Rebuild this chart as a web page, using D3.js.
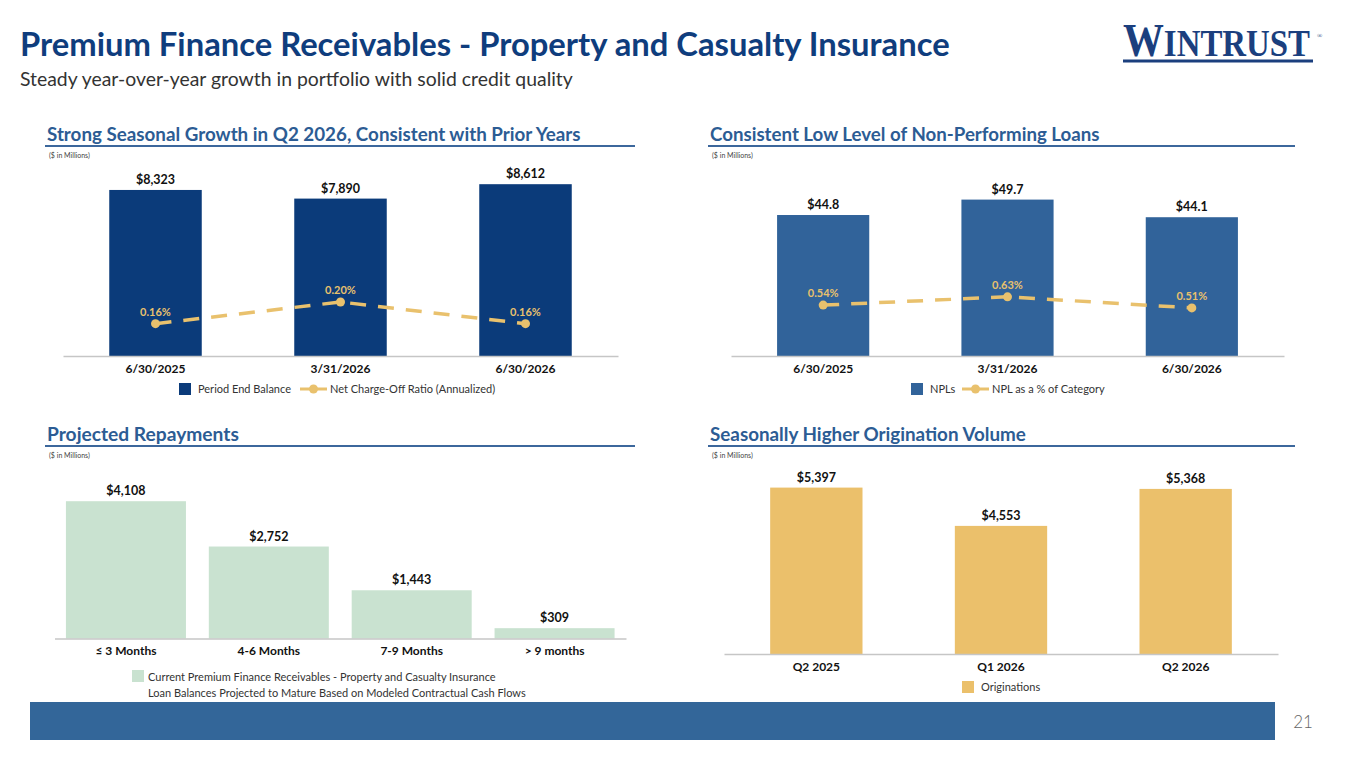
<!DOCTYPE html>
<html>
<head>
<meta charset="utf-8">
<script src="https://cdn.jsdelivr.net/npm/d3@7"></script>
<style>
  body { margin: 0; background: #fff; }
  svg { display: block; font-family: Lato, "Open Sans", sans-serif; }
</style>
</head>
<body>
<div id="chart-area"></div>
<script>
// chart values
const balanceDates = ["6/30/2025", "3/31/2026", "6/30/2026"];
const periodEndBalance = [8323, 7890, 8612];
const ncoRatio = [0.16, 0.20, 0.16];

const nplDates = ["6/30/2025", "3/31/2026", "6/30/2026"];
const nplBalance = [44.8, 49.7, 44.1];
const nplPct = [0.54, 0.63, 0.51];

const repayBuckets = ["≤ 3 Months", "4-6 Months", "7-9 Months", "> 9 months"];
const repayValues = [4108, 2752, 1443, 309];

const origQuarters = ["Q2 2025", "Q1 2026", "Q2 2026"];
const originations = [5397, 4553, 5368];

const navy = "#0b3b7a", steel = "#31639a", gold = "#e9c16d", green = "#c9e2d0", goldBar = "#ebc06b";

const svg = d3.select("#chart-area").append("svg")
    .attr("width", 1365)
    .attr("height", 768);

// squeeze/stretch a text to a target width by changing its font size
function fit(sel, w) {
    const len = sel.node().getComputedTextLength();
    const fs = parseFloat(sel.attr("font-size"));
    sel.attr("font-size", (fs * w / len).toFixed(2));
    return sel;
}

// Page title + subtitle
fit(svg.append("text")
    .attr("x", 20).attr("y", 56)
    .attr("font-size", 30).attr("font-weight", 700)
    .attr("fill", "#0f3d7d")
    .text("Premium Finance Receivables - Property and Casualty Insurance"), 930);

fit(svg.append("text")
    .attr("x", 20).attr("y", 86)
    .attr("font-size", 17)
    .attr("fill", "#333")
    .text("Steady year-over-year growth in portfolio with solid credit quality"), 553);

// Logo - squeezed horizontally to the reference width
const logo = svg.append("text")
    .attr("x", 0).attr("y", 0)
    .attr("font-family", "'Liberation Serif', 'DejaVu Serif', serif")
    .attr("font-weight", 700)
    .attr("fill", "#1b3f7e");
logo.append("tspan").attr("font-size", 46).text("W");
logo.append("tspan").attr("font-size", 37).text("INTRUST");
const logoLen = logo.node().getComputedTextLength();
logo.attr("transform", `translate(1123, 56) scale(${(187 / logoLen).toFixed(4)}, 1)`);
svg.append("text")
    .attr("x", 1317).attr("y", 38)
    .attr("font-family", "'Liberation Serif', serif")
    .attr("font-size", 7).attr("fill", "#1b3f7e")
    .text("®");
svg.append("rect")
    .attr("x", 1123).attr("y", 59.5)
    .attr("width", 190).attr("height", 3)
    .attr("fill", "#1b3f7e");

// Section headings
function heading(x0, x1, y, label, w) {
    fit(svg.append("text")
        .attr("x", x0 + 2).attr("y", y)
        .attr("font-size", 17).attr("font-weight", 700)
        .attr("fill", "#2c5c94")
        .text(label), w);
    svg.append("line")
        .attr("x1", x0).attr("x2", x1)
        .attr("y1", y + 5).attr("y2", y + 5)
        .attr("stroke", "#3c679c").attr("stroke-width", 2);
    svg.append("text")
        .attr("x", x0 + 4).attr("y", y + 17)
        .attr("font-size", 7).attr("fill", "#444")
        .text("($ in Millions)");
}
heading(45, 635, 141, "Strong Seasonal Growth in Q2 2026, Consistent with Prior Years", 534);
heading(708, 1295, 141, "Consistent Low Level of Non-Performing Loans", 390);
heading(45, 635, 441, "Projected Repayments", 192);
heading(708, 1295, 441, "Seasonally Higher Origination Volume", 316);

// generic bar panel
function barPanel(cats, vals, x, y, color, fmt, pad) {
    const g = svg.append("g");
    const rows = cats.map((c, i) => ({cat: c, value: vals[i]}));

    g.selectAll("rect.bar")
        .data(rows)
        .enter().append("rect")
        .attr("class", "bar")
        .attr("x", d => x(d.cat))
        .attr("y", d => y(d.value))
        .attr("width", x.bandwidth())
        .attr("height", d => y.range()[0] - y(d.value))
        .attr("fill", color);

    g.selectAll("text.val")
        .data(rows)
        .enter().append("text")
        .attr("class", "val")
        .attr("x", d => x(d.cat) + x.bandwidth() / 2)
        .attr("y", d => y(d.value) - 6)
        .attr("text-anchor", "middle")
        .attr("font-size", 12.5).attr("font-weight", 700)
        .attr("fill", "#111")
        .text(fmt);

    const axis = g.append("g")
        .attr("transform", `translate(0, ${y.range()[0]})`)
        .call(d3.axisBottom(x).tickSize(0).tickSizeOuter(0).tickPadding(pad));
    axis.select(".domain").attr("stroke", "#c6c6c6").attr("stroke-width", 1.5);
    axis.selectAll("text")
        .attr("font-family", "Lato, 'Open Sans', sans-serif")
        .attr("font-size", 12).attr("font-weight", 700)
        .attr("fill", "#111");
    return g;
}

// dashed ratio line over a bar panel
function ratioLine(cats, vals, x, y) {
    const g = svg.append("g");
    const pts = cats.map((c, i) => ({cat: c, value: vals[i]}));
    const cx = d => x(d.cat) + x.bandwidth() / 2;
    g.append("path")
        .datum(pts)
        .attr("d", d3.line().x(cx).y(d => y(d.value)))
        .attr("fill", "none")
        .attr("stroke", gold)
        .attr("stroke-width", 3.5)
        .attr("stroke-dasharray", "16,12");
    g.selectAll("circle")
        .data(pts).enter().append("circle")
        .attr("cx", cx).attr("cy", d => y(d.value))
        .attr("r", 4.5).attr("fill", gold);
    g.selectAll("text")
        .data(pts).enter().append("text")
        .attr("x", cx).attr("y", d => y(d.value) - 8)
        .attr("text-anchor", "middle")
        .attr("font-size", 11).attr("font-weight", 700)
        .attr("fill", gold)
        .text(d => d.value.toFixed(2) + "%");
}

function legendBox(x, y, color, label) {
    svg.append("rect").attr("x", x).attr("y", y).attr("width", 12).attr("height", 12).attr("fill", color);
    svg.append("text").attr("x", x + 19).attr("y", y + 10)
        .attr("font-size", 11).attr("fill", "#333").text(label);
}
function legendLine(x, y, label) {
    svg.append("line").attr("x1", x).attr("x2", x + 27).attr("y1", y).attr("y2", y)
        .attr("stroke", gold).attr("stroke-width", 3);
    svg.append("circle").attr("cx", x + 13.5).attr("cy", y).attr("r", 4.5).attr("fill", gold);
    svg.append("text").attr("x", x + 30).attr("y", y + 4)
        .attr("font-size", 11).attr("fill", "#333").text(label);
}

const money0 = d => "$" + d3.format(",")(d.value);
const money1 = d => "$" + d3.format(".1f")(d.value);

// Panel 1: period end balance + NCO ratio
const x1 = d3.scaleBand().domain(balanceDates).range([63, 618]).paddingInner(0.5).paddingOuter(0.25);
const y1 = d3.scaleLinear().domain([0, 9500]).range([356, 356 - 9500 * 0.01995]);
barPanel(balanceDates, periodEndBalance, x1, y1, navy, money0, 8);
const y1r = d3.scaleLinear().domain([0.10, 0.30]).range([356.2, 247.8]);
ratioLine(balanceDates, ncoRatio, x1, y1r);
legendBox(179, 383, navy, "Period End Balance");
legendLine(300, 389, "Net Charge-Off Ratio (Annualized)");

// Panel 2: NPLs + NPL %
const x2 = d3.scaleBand().domain(nplDates).range([731, 1284]).paddingInner(0.5).paddingOuter(0.25);
const y2 = d3.scaleLinear().domain([0, 60]).range([356, 356 - 60 * 3.147]);
barPanel(nplDates, nplBalance, x2, y2, steel, money1, 8);
const y2r = d3.scaleLinear().domain([0.4, 0.7]).range([318, 290.4]);
ratioLine(nplDates, nplPct, x2, y2r);
legendBox(911, 383, steel, "NPLs");
legendLine(962, 389, "NPL as a % of Category");

// Panel 3: projected repayments
const x3 = d3.scaleBand().domain(repayBuckets).range([54.5, 626]).paddingInner(0.16).paddingOuter(0.08);
const y3 = d3.scaleLinear().domain([0, 5000]).range([638.5, 638.5 - 5000 * 0.03342]);
barPanel(repayBuckets, repayValues, x3, y3, green, money0, 8);
svg.append("rect").attr("x", 132).attr("y", 670).attr("width", 12).attr("height", 12).attr("fill", green);
svg.append("text").attr("x", 148).attr("y", 681)
    .attr("font-size", 11).attr("fill", "#333")
    .text("Current Premium Finance Receivables - Property and Casualty Insurance");
svg.append("text").attr("x", 148).attr("y", 697)
    .attr("font-size", 11).attr("fill", "#333")
    .text("Loan Balances Projected to Mature Based on Modeled Contractual Cash Flows");

// Panel 4: originations
const x4 = d3.scaleBand().domain(origQuarters).range([724, 1278]).paddingInner(0.5).paddingOuter(0.25);
const y4 = d3.scaleLinear().domain([1730, 6000]).range([654, 654 - 4270 * 0.04538]);
barPanel(origQuarters, originations, x4, y4, goldBar, money0, 8.5);
legendBox(962, 681, goldBar, "Originations");

// Footer band + page number
svg.append("rect")
    .attr("x", 30).attr("y", 702)
    .attr("width", 1245).attr("height", 38)
    .attr("fill", "#336699");
svg.append("text")
    .attr("x", 1303).attr("y", 728)
    .attr("text-anchor", "middle")
    .attr("font-size", 17).attr("font-weight", 300)
    .attr("fill", "#666")
    .text("21");
</script>
</body>
</html>
